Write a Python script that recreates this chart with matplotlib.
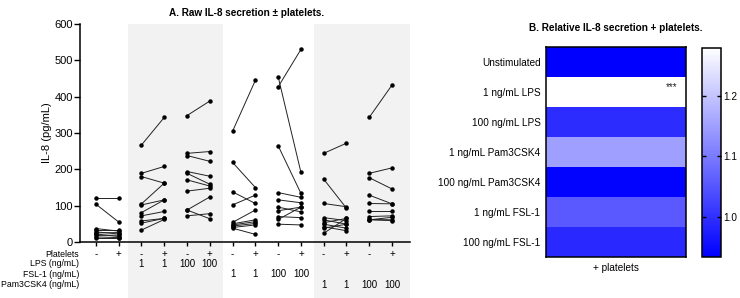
import matplotlib
matplotlib.use("Agg")
import matplotlib.pyplot as plt
import numpy as np
from matplotlib.colors import LinearSegmentedColormap
from matplotlib.patches import Rectangle

plt.rcParams['font.family'] = ['Liberation Sans', 'DejaVu Sans']

# ---- Panel A data: paired (minus platelets, plus platelets) per donor ----
unstim_minus = [122, 104, 37, 33, 28, 25, 22, 18, 14, 10]
unstim_plus = [122, 55, 30, 33, 22, 26, 15, 19, 12, 10]
lps1_minus = [267, 189, 180, 105, 102, 81, 72, 58, 52, 33]
lps1_plus = [343, 208, 162, 162, 116, 116, 84, 65, 65, 62]
lps100_minus = [348, 244, 238, 194, 189, 171, 140, 88, 88, 72]
lps100_plus = [388, 249, 222, 181, 159, 154, 148, 124, 64, 78]
fsl1_minus = [305, 219, 138, 102, 54, 50, 47, 44, 40, 38]
fsl1_plus = [445, 150, 106, 129, 88, 61, 56, 51, 47, 21]
fsl100_minus = [455, 427, 265, 136, 116, 96, 86, 70, 62, 49]
fsl100_plus = [192, 530, 134, 123, 108, 83, 96, 67, 96, 47]
pam1_minus = [244, 173, 106, 67, 61, 53, 49, 42, 38, 24]
pam1_plus = [272, 93, 97, 59, 49, 65, 38, 31, 49, 65]
pam100_minus = [343, 189, 177, 129, 106, 86, 70, 62, 61, 61]
pam100_plus = [432, 204, 146, 105, 105, 86, 72, 61, 68, 59]

groups = [(unstim_minus, unstim_plus), (lps1_minus, lps1_plus),
          (lps100_minus, lps100_plus), (fsl1_minus, fsl1_plus),
          (fsl100_minus, fsl100_plus), (pam1_minus, pam1_plus),
          (pam100_minus, pam100_plus)]

platelet_labels = ['-', '+'] * 7
lps_labels = ['', '', '1', '1', '100', '100', '', '', '', '', '', '', '', '']
fsl_labels = ['', '', '', '', '', '', '1', '1', '100', '100', '', '', '', '']
pam_labels = ['', '', '', '', '', '', '', '', '', '', '1', '1', '100', '100']
table_rows = ['Platelets', 'LPS (ng/mL)', 'FSL-1 (ng/mL)', 'Pam3CSK4 (ng/mL)']

# ---- Panel B data ----
row_labels = ['Unstimulated', '1 ng/mL LPS', '100 ng/mL LPS', '1 ng/mL Pam3CSK4',
              '100 ng/mL Pam3CSK4', '1 ng/mL FSL-1', '100 ng/mL FSL-1']
rel_values = [0.935, 1.28, 0.995, 1.15, 0.937, 1.055, 0.99]
cbar_ticks = [1.0, 1.1, 1.2]

W, H = 740, 298
fig = plt.figure(figsize=(W / 100, H / 100), dpi=100)

def fbox(l, t, r, b):
    return [l / W, 1 - b / H, (r - l) / W, (b - t) / H]

# ---------------- Panel A ----------------
ax = fig.add_axes(fbox(80, 24, 410, 242))
ax.set_facecolor('none')
ax.set_xlim(-0.7, 13.79)
ax.set_ylim(0, 600)

for x0, w in [(1.4, 4.2), (9.58, 4.21)]:
    ax.add_patch(Rectangle((x0, -0.3), w, 1.3, transform=ax.get_xaxis_transform(),
                           facecolor='#f2f2f2', edgecolor='none', clip_on=False, zorder=0))

for gi, (mi, pl) in enumerate(groups):
    xm, xp = 2 * gi, 2 * gi + 1
    for a, b in zip(mi, pl):
        ax.plot([xm, xp], [a, b], color='#222222', lw=0.7, marker='o', ms=2.2,
                mfc='black', mec='black', zorder=3, clip_on=False)

ax.spines['top'].set_visible(False)
ax.spines['right'].set_visible(False)
ax.spines['left'].set_linewidth(1.1)
ax.spines['bottom'].set_linewidth(1.1)
ax.set_yticks(np.arange(0, 601, 100))
ax.tick_params(axis='y', labelsize=8, length=4, width=1, pad=1)
ax.set_xticks(np.arange(14))
ax.set_xticklabels([])
ax.tick_params(axis='x', length=3, width=1)
ax.set_ylabel('IL-8 (pg/mL)', fontsize=8)
ax.yaxis.set_label_coords(-0.085, 0.5)

row_y = [-0.057, -0.1, -0.148, -0.197]
rows = [platelet_labels, lps_labels, fsl_labels, pam_labels]
trans = ax.get_xaxis_transform()
for ry, name, labs in zip(row_y, table_rows, rows):
    ax.text(-0.002, ry, name, transform=ax.transAxes, ha='right', va='center', fontsize=6.3)
    for i, lab in enumerate(labs):
        if lab:
            ax.text(i, ry, lab, transform=trans, ha='center', va='center', fontsize=7)

fig.text(247 / W, 1 - 13 / H, 'A. Raw IL-8 secretion \u00b1 platelets.', ha='center', va='center',
         fontsize=7.2, fontweight='bold')

# ---------------- Panel B ----------------
cmap = LinearSegmentedColormap.from_list('bw', ['#0000ff', '#ffffff'])
axb = fig.add_axes(fbox(546, 47, 686, 257))
data = np.array(rel_values).reshape(-1, 1)
im = axb.imshow(data, cmap=cmap, vmin=0.934, vmax=1.28, aspect='auto',
                interpolation='nearest')
axb.set_yticks(np.arange(len(row_labels)))
axb.set_yticklabels(row_labels, fontsize=7.2)
axb.set_xticks([])
axb.tick_params(axis='y', length=0, pad=4)
axb.set_xlabel('+ platelets', fontsize=7.2, labelpad=4)
for s in axb.spines.values():
    s.set_linewidth(1.1)
axb.text(0.44, 0.85, '***', transform=axb.transData,
         ha='right', va='center', fontsize=7, color='#222222')

cax = fig.add_axes(fbox(702, 47.5, 720.5, 256.7))
cb = fig.colorbar(im, cax=cax, ticks=cbar_ticks)
cb.ax.set_yticklabels(['1.0', '1.1', '1.2'])
cb.ax.tick_params(direction='in', left=True, right=True, length=3, width=1, labelsize=7.2, pad=2)
cb.outline.set_linewidth(1.1)

fig.text(616 / W, 1 - 28 / H, 'B. Relative IL-8 secretion + platelets.', ha='center', va='center',
         fontsize=7.2, fontweight='bold')

fig.savefig('out.png', dpi=100)
